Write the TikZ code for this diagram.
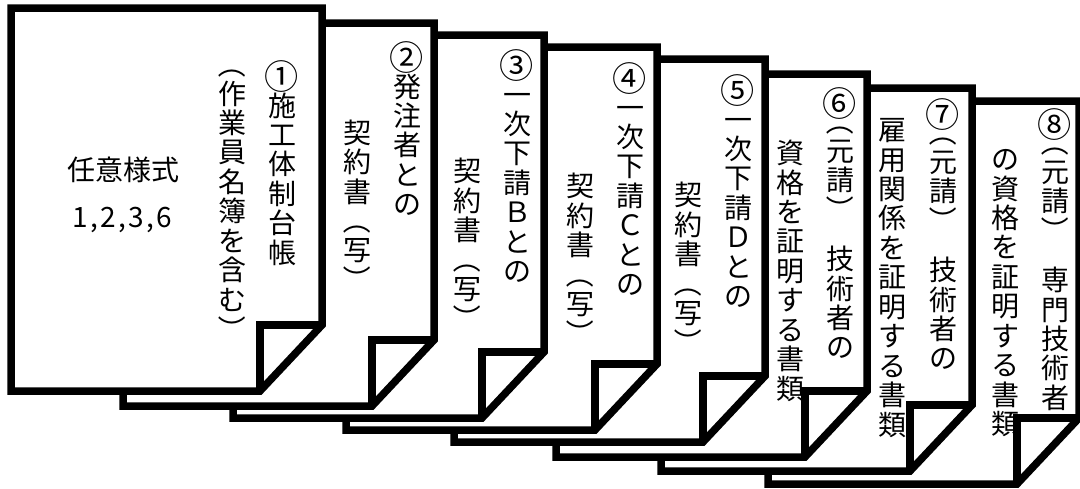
\documentclass[tikz,border=0pt]{standalone}
\usepackage{fontspec}
\setmainfont{Noto Sans CJK JP}
\usepackage{graphicx}
\tikzset{
  pg/.style={draw=black,fill=white,line width=7.5pt,line join=miter},
  fold/.style={draw=black,line width=7.5pt,line join=miter},
  jc/.style={inner sep=0pt,outer sep=0pt,font=\fontsize{28}{30}\selectfont,text height=24.64pt,text depth=3.36pt},
}
\newcommand\VL{\rotatebox[origin=c]{-90}{\rule[-3.36pt]{0pt}{28pt}（}}
\newcommand\VR{\rotatebox[origin=c]{-90}{\rule[-3.36pt]{0pt}{28pt}）}}
\newcommand\cn[1]{\raisebox{-2.4pt}{\scalebox{1.22}{#1}}}
% id, x, y of first cell centre, list of characters
\newcommand\vcol[4]{\foreach \ch [count=\k from 0] in {#4}{\node[jc] (#1-\k) at (#2,{#3+\k*29.45}) {\ch};}}
% id, left, top
\newcommand\docpage[3]{%
  \coordinate (#1-tl) at (#2,#3);
  \coordinate (#1-tr) at ({#2+311},#3);
  \coordinate (#1-fr) at ({#2+311},{#3+317});
  \coordinate (#1-fi) at ({#2+249},{#3+317});
  \coordinate (#1-fb) at ({#2+249},{#3+383});
  \coordinate (#1-bl) at (#2,{#3+383});
  \filldraw[pg] (#1-tl) -- (#1-tr) -- (#1-fr) -- (#1-fb) -- (#1-bl) -- cycle;
  \draw[fold] (#1-fr) -- (#1-fi) -- (#1-fb);
}
\begin{document}
\begin{tikzpicture}[x=1pt,y=-1pt]
\useasboundingbox (0,0) rectangle (1080,488);
% page 8 (back)
\docpage{p8}{768}{101}
\vcol{p8n}{1055}{124}{\cn{⑧}}
\vcol{p8p}{1055}{142}{\VL,元,請,\VR}
\vcol{p8a}{1055}{280}{専,門,技,術,者}
\vcol{p8b}{1005}{159}{の,資,格,を,証,明,す,る,書,類}
% page 7
\docpage{p7}{661}{88}
\vcol{p7n}{943}{114}{\cn{⑦}}
\vcol{p7p}{943}{132}{\VL,元,請,\VR}
\vcol{p7a}{943}{270}{技,術,者,の}
\vcol{p7b}{892}{130}{雇,用,関,係,を,証,明,す,る,書,類}
% page 6
\docpage{p6}{556}{74}
\vcol{p6n}{840}{103}{\cn{⑥}}
\vcol{p6p}{840}{121}{\VL,元,請,\VR}
\vcol{p6a}{840}{259}{技,術,者,の}
\vcol{p6b}{790}{153}{資,格,を,証,明,す,る,書,類}
% page 5
\docpage{p5}{454}{59}
\vcol{p5a}{738}{90}{\cn{⑤},一,次,下,請,Ｄ,と,の}
\vcol{p5b}{688}{195}{契,約,書,\VL,写,\VR}
% page 4
\docpage{p4}{346}{47}
\vcol{p4a}{630}{78}{\cn{④},一,次,下,請,Ｃ,と,の}
\vcol{p4b}{580}{186}{契,約,書,\VL,写,\VR}
% page 3
\docpage{p3}{233}{35}
\vcol{p3a}{517}{65}{\cn{③},一,次,下,請,Ｂ,と,の}
\vcol{p3b}{467}{171}{契,約,書,\VL,写,\VR}
% page 2
\docpage{p2}{123}{23}
\vcol{p2a}{407}{57}{\cn{②},発,注,者,と,の}
\vcol{p2b}{357}{132.5}{契,約,書,\VL,写,\VR}
% page 1 (front)
\docpage{p1}{11}{8}
\vcol{p1a}{282}{76}{\cn{①},施,工,体,制,台,帳}
\vcol{p1b}{232}{64}{\VL,作,業,員,名,簿,を,含,む,\VR}
\node[jc] (form) at (123,170) {任意様式};
\node[jc] (nums) at (122,216.5) {1\kern2.3pt,\kern2.3pt2\kern2.3pt,\kern2.3pt3\kern2.3pt,\kern2.3pt6};
\end{tikzpicture}
\end{document}
